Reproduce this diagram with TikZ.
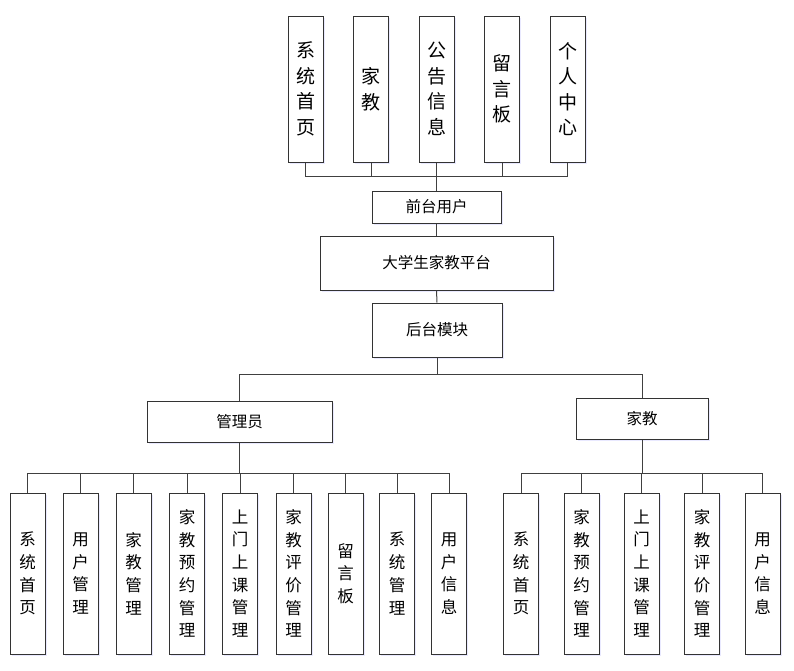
\documentclass[tikz,border=0pt]{standalone}
\usepackage{fontspec}
\newfontfamily\cjk{Noto Sans CJK SC}
\usetikzlibrary{shadows}

\tikzset{
    box/.style={draw=black!80, line width=1pt, fill=white,
        drop shadow={shadow xshift=1.5pt, shadow yshift=-1.5pt, fill=blue!25, opacity=0.35}},
    topbox/.style={box, minimum width=35pt, minimum height=146pt, inner sep=0pt,
        align=center, font=\cjk\fontsize{19}{25.5}\selectfont},
    leafbox/.style={box, minimum width=35pt, minimum height=161pt, inner sep=0pt,
        align=center, font=\cjk\fontsize{16.5}{22.7}\selectfont},
    midbox/.style={box, inner sep=0pt, font=\cjk\fontsize{15.5}{18}\selectfont},
    link/.style={draw=black!75, line width=1pt}
}

\begin{document}
\begin{tikzpicture}[x=1pt,y=-1pt]
    \useasboundingbox (0,0) rectangle (794,670);
    % front end
    \foreach \x/\txt [count=\i] in {305.5/{系\\统\\首\\页}, 371/{家\\教},
        436.5/{公\\告\\信\\息}, 502/{留\\言\\板}, 567.5/{个\\人\\中\\心}}
    \node[topbox] (t\i) at (\x,89) {\txt};
    \node[midbox, minimum width=129pt, minimum height=32pt] (front) at (436.5,207) {前台用户};
    \node[midbox, minimum width=233pt, minimum height=54pt] (plat) at (436.5,263) {大学生家教平台};
    \node[midbox, minimum width=130pt, minimum height=54pt] (back) at (437,330) {后台模块};
    \node[midbox, minimum width=185pt, minimum height=41pt] (admin) at (239.5,421.5) {管理员};
    \node[midbox, minimum width=132pt, minimum height=41pt] (tutor) at (642,418.5) {家教};
    % admin modules
    \foreach \x/\txt [count=\i] in {27.5/{系\\统\\首\\页}, 80.5/{用\\户\\管\\理},
        133.5/{家\\教\\管\\理}, 187/{家\\教\\预\\约\\管\\理}, 240/{上\\门\\上\\课\\管\\理},
        293.5/{家\\教\\评\\价\\管\\理}, 345.5/{留\\言\\板}, 397/{系\\统\\管\\理},
        449/{用\\户\\信\\息}}
    \node[leafbox] (a\i) at (\x,573.5) {\txt};
    % tutor modules
    \foreach \x/\txt [count=\i] in {521/{系\\统\\首\\页}, 581.5/{家\\教\\预\\约\\管\\理},
        641.5/{上\\门\\上\\课\\管\\理}, 702/{家\\教\\评\\价\\管\\理}, 762.5/{用\\户\\信\\息}}
    \node[leafbox] (b\i) at (\x,573.5) {\txt};
    % connectors
    \foreach \i in {1,...,5}
    \draw[link] (front.north) -- ++(0,-14) -| (t\i.south);
    \draw[link] (front.south) -- (plat.north);
    \draw[link] (plat.south) -- (back.north);
    \draw[link] (back.south) -- ++(0,17) -| (admin.north);
    \draw[link] (back.south) -- ++(0,17) -| (tutor.north);
    \foreach \i in {1,...,9}
    \draw[link] (admin.south) -- ++(0,31) -| (a\i.north);
    \foreach \i in {1,...,5}
    \draw[link] (tutor.south) -- ++(0,34) -| (b\i.north);
\end{tikzpicture}
\end{document}
